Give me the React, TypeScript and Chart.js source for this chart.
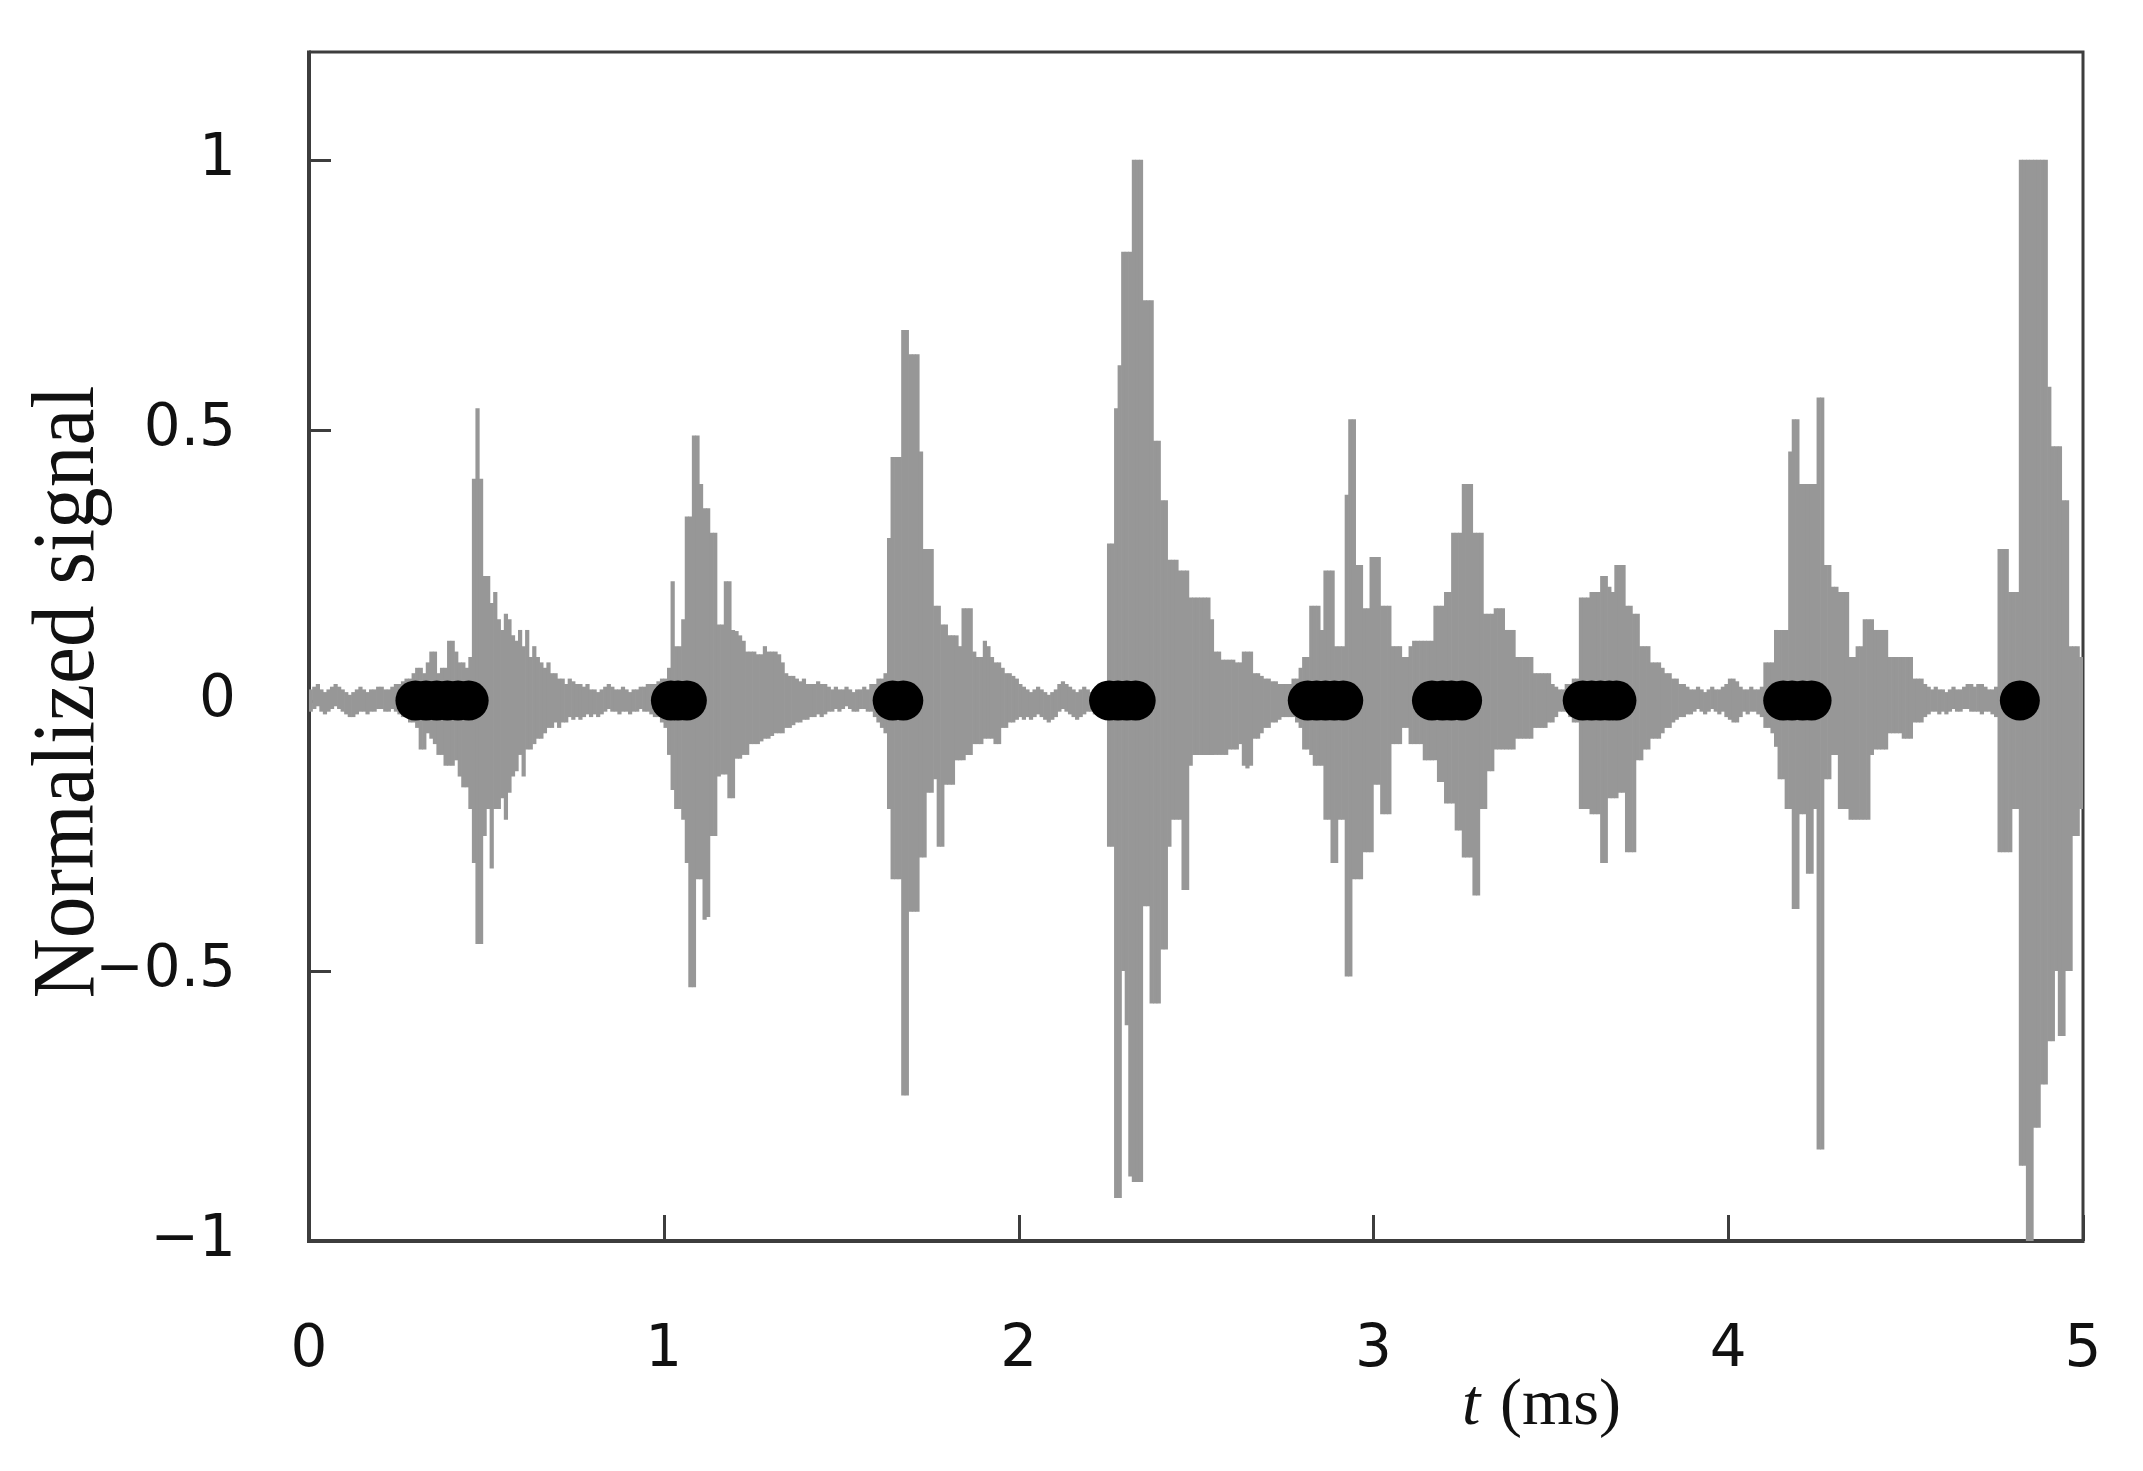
import React, { useEffect, useRef } from "react";
import { Chart, registerables } from "chart.js";

Chart.register(...registerables);

// Sampling grid of the recorded signal (ms)
const SAMPLE_START_MS = 0;
const SAMPLE_STEP_MS = 0.01;

// Upper envelope of the normalized signal in each 0.01 ms sample (rows = 0.1 ms)
const signalHigh: number[] = [
  0.02, 0.025, 0.03, 0.02, 0.015, 0.02, 0.025, 0.03, 0.025, 0.02,
  0.015, 0.01, 0.015, 0.02, 0.025, 0.02, 0.015, 0.02, 0.02, 0.025,
  0.025, 0.02, 0.02, 0.025, 0.03, 0.03, 0.035, 0.04, 0.04, 0.05,
  0.06, 0.06, 0.05, 0.07, 0.09, 0.09, 0.05, 0.06, 0.06, 0.11,
  0.11, 0.09, 0.07, 0.07, 0.06, 0.08, 0.41, 0.54, 0.41, 0.23,
  0.23, 0.18, 0.2, 0.15, 0.13, 0.16, 0.15, 0.12, 0.11, 0.13,
  0.1, 0.13, 0.08, 0.1, 0.08, 0.07, 0.06, 0.07, 0.05, 0.05,
  0.04, 0.04, 0.03, 0.04, 0.035, 0.03, 0.03, 0.025, 0.03, 0.02,
  0.02, 0.015, 0.02, 0.025, 0.03, 0.025, 0.02, 0.02, 0.025, 0.02,
  0.015, 0.02, 0.02, 0.025, 0.025, 0.03, 0.03, 0.03, 0.035, 0.04,
  0.04, 0.06, 0.22, 0.1, 0.1, 0.15, 0.34, 0.34, 0.49, 0.49,
  0.4, 0.355, 0.355, 0.31, 0.31, 0.14, 0.14, 0.22, 0.22, 0.13,
  0.128, 0.12, 0.11, 0.09, 0.09, 0.09, 0.085, 0.085, 0.1, 0.09,
  0.09, 0.09, 0.085, 0.07, 0.05, 0.045, 0.045, 0.04, 0.035, 0.04,
  0.03, 0.03, 0.03, 0.035, 0.03, 0.03, 0.025, 0.02, 0.025, 0.02,
  0.02, 0.025, 0.02, 0.015, 0.02, 0.02, 0.025, 0.02, 0.03, 0.03,
  0.04, 0.04, 0.05, 0.3, 0.45, 0.45, 0.45, 0.685, 0.685, 0.64,
  0.64, 0.64, 0.46, 0.28, 0.28, 0.28, 0.175, 0.175, 0.14, 0.14,
  0.12, 0.12, 0.12, 0.1, 0.17, 0.17, 0.17, 0.09, 0.08, 0.08,
  0.11, 0.1, 0.08, 0.07, 0.07, 0.06, 0.05, 0.05, 0.045, 0.04,
  0.03, 0.025, 0.02, 0.015, 0.02, 0.025, 0.02, 0.015, 0.01, 0.015,
  0.02, 0.03, 0.035, 0.03, 0.025, 0.02, 0.015, 0.02, 0.025, 0.02,
  0.015, 0.015, 0.02, 0.025, 0.03, 0.29, 0.29, 0.54, 0.62, 0.83,
  0.83, 0.83, 1.0, 1.0, 1.0, 0.74, 0.74, 0.74, 0.48, 0.48,
  0.37, 0.37, 0.26, 0.26, 0.26, 0.24, 0.24, 0.24, 0.19, 0.19,
  0.19, 0.19, 0.19, 0.19, 0.15, 0.09, 0.09, 0.075, 0.075, 0.075,
  0.075, 0.07, 0.07, 0.09, 0.09, 0.09, 0.05, 0.05, 0.045, 0.04,
  0.04, 0.035, 0.035, 0.03, 0.03, 0.03, 0.03, 0.04, 0.04, 0.06,
  0.08, 0.08, 0.175, 0.175, 0.175, 0.13, 0.24, 0.24, 0.24, 0.1,
  0.1, 0.1, 0.38, 0.52, 0.52, 0.25, 0.25, 0.17, 0.17, 0.265,
  0.265, 0.265, 0.175, 0.175, 0.175, 0.1, 0.1, 0.1, 0.08, 0.08,
  0.1, 0.11, 0.11, 0.11, 0.11, 0.11, 0.11, 0.175, 0.175, 0.175,
  0.2, 0.2, 0.31, 0.31, 0.31, 0.4, 0.4, 0.4, 0.31, 0.31,
  0.31, 0.16, 0.16, 0.16, 0.17, 0.17, 0.17, 0.13, 0.13, 0.13,
  0.08, 0.08, 0.08, 0.08, 0.08, 0.05, 0.05, 0.05, 0.05, 0.05,
  0.03, 0.025, 0.02, 0.02, 0.03, 0.03, 0.04, 0.04, 0.19, 0.19,
  0.19, 0.2, 0.2, 0.2, 0.23, 0.23, 0.21, 0.2, 0.25, 0.25,
  0.25, 0.175, 0.175, 0.16, 0.16, 0.1, 0.1, 0.1, 0.07, 0.07,
  0.07, 0.06, 0.05, 0.05, 0.04, 0.04, 0.03, 0.03, 0.025, 0.02,
  0.02, 0.025, 0.02, 0.015, 0.02, 0.025, 0.02, 0.02, 0.025, 0.03,
  0.04, 0.04, 0.035, 0.025, 0.02, 0.02, 0.025, 0.02, 0.02, 0.025,
  0.07, 0.07, 0.07, 0.13, 0.13, 0.13, 0.13, 0.46, 0.52, 0.52,
  0.4, 0.4, 0.4, 0.4, 0.4, 0.56, 0.56, 0.25, 0.25, 0.21,
  0.21, 0.2, 0.2, 0.2, 0.08, 0.08, 0.1, 0.1, 0.15, 0.15,
  0.15, 0.13, 0.13, 0.13, 0.13, 0.08, 0.08, 0.08, 0.08, 0.08,
  0.08, 0.08, 0.04, 0.04, 0.04, 0.03, 0.025, 0.02, 0.025, 0.02,
  0.02, 0.015, 0.02, 0.025, 0.02, 0.02, 0.025, 0.03, 0.03, 0.025,
  0.03, 0.03, 0.025, 0.02, 0.02, 0.025, 0.28, 0.28, 0.28, 0.2,
  0.2, 0.2, 1.0, 1.0, 1.0, 1.0, 1.0, 1.0, 1.0, 1.0,
  0.58, 0.47, 0.47, 0.47, 0.37, 0.37, 0.1, 0.1, 0.1, 0.08,
];

// Lower envelope of the normalized signal in each 0.01 ms sample
const signalLow: number[] = [
  -0.02, -0.015, -0.01, -0.02, -0.025, -0.02, -0.015, -0.01, -0.015, -0.02,
  -0.025, -0.03, -0.03, -0.025, -0.02, -0.02, -0.025, -0.02, -0.02, -0.015,
  -0.015, -0.02, -0.02, -0.015, -0.02, -0.025, -0.03, -0.03, -0.04, -0.04,
  -0.05, -0.09, -0.09, -0.06, -0.07, -0.08, -0.1, -0.1, -0.12, -0.12,
  -0.12, -0.11, -0.14, -0.16, -0.16, -0.2, -0.3, -0.45, -0.45, -0.25,
  -0.2, -0.31, -0.2, -0.2, -0.18, -0.22, -0.17, -0.14, -0.13, -0.1,
  -0.14, -0.09, -0.09, -0.08, -0.07, -0.07, -0.06, -0.05, -0.05, -0.04,
  -0.05, -0.04, -0.04, -0.03, -0.035, -0.03, -0.035, -0.03, -0.025, -0.03,
  -0.025, -0.03, -0.025, -0.02, -0.015, -0.02, -0.02, -0.025, -0.02, -0.02,
  -0.025, -0.02, -0.02, -0.015, -0.02, -0.02, -0.025, -0.03, -0.03, -0.04,
  -0.05, -0.1, -0.165, -0.2, -0.2, -0.22, -0.3, -0.53, -0.53, -0.33,
  -0.33, -0.405, -0.4, -0.25, -0.25, -0.14, -0.136, -0.136, -0.18, -0.18,
  -0.107, -0.107, -0.1, -0.1, -0.08, -0.08, -0.08, -0.075, -0.07, -0.07,
  -0.065, -0.06, -0.06, -0.06, -0.05, -0.05, -0.045, -0.04, -0.04, -0.035,
  -0.035, -0.03, -0.03, -0.025, -0.03, -0.025, -0.02, -0.02, -0.015, -0.02,
  -0.015, -0.01, -0.015, -0.02, -0.02, -0.015, -0.015, -0.02, -0.02, -0.03,
  -0.04, -0.05, -0.06, -0.2, -0.33, -0.33, -0.33, -0.73, -0.73, -0.39,
  -0.39, -0.39, -0.29, -0.29, -0.17, -0.17, -0.145, -0.27, -0.27, -0.155,
  -0.155, -0.155, -0.11, -0.11, -0.11, -0.1, -0.1, -0.08, -0.08, -0.08,
  -0.07, -0.07, -0.07, -0.08, -0.08, -0.05, -0.05, -0.04, -0.04, -0.035,
  -0.03, -0.035, -0.03, -0.035, -0.03, -0.025, -0.03, -0.035, -0.04, -0.035,
  -0.03, -0.02, -0.015, -0.02, -0.025, -0.03, -0.035, -0.03, -0.025, -0.02,
  -0.02, -0.025, -0.02, -0.02, -0.03, -0.27, -0.27, -0.92, -0.92, -0.5,
  -0.6, -0.88, -0.89, -0.89, -0.89, -0.38, -0.38, -0.56, -0.56, -0.56,
  -0.46, -0.46, -0.27, -0.22, -0.22, -0.22, -0.35, -0.35, -0.12, -0.1,
  -0.1, -0.1, -0.1, -0.1, -0.1, -0.1, -0.1, -0.1, -0.1, -0.09,
  -0.09, -0.09, -0.08, -0.12, -0.125, -0.12, -0.07, -0.07, -0.06, -0.05,
  -0.05, -0.04, -0.04, -0.035, -0.03, -0.03, -0.03, -0.03, -0.04, -0.05,
  -0.09, -0.09, -0.1, -0.12, -0.12, -0.12, -0.22, -0.22, -0.3, -0.3,
  -0.22, -0.22, -0.51, -0.51, -0.33, -0.33, -0.33, -0.28, -0.28, -0.28,
  -0.155, -0.155, -0.21, -0.21, -0.21, -0.08, -0.08, -0.08, -0.05, -0.05,
  -0.08, -0.08, -0.08, -0.08, -0.11, -0.11, -0.11, -0.11, -0.15, -0.15,
  -0.19, -0.19, -0.19, -0.24, -0.24, -0.29, -0.29, -0.29, -0.36, -0.36,
  -0.2, -0.2, -0.13, -0.13, -0.09, -0.09, -0.09, -0.09, -0.09, -0.09,
  -0.07, -0.07, -0.07, -0.07, -0.07, -0.05, -0.05, -0.05, -0.05, -0.04,
  -0.04, -0.03, -0.02, -0.02, -0.02, -0.03, -0.04, -0.04, -0.2, -0.2,
  -0.2, -0.21, -0.21, -0.21, -0.3, -0.3, -0.18, -0.18, -0.18, -0.17,
  -0.17, -0.28, -0.28, -0.28, -0.11, -0.11, -0.09, -0.09, -0.07, -0.07,
  -0.07, -0.06, -0.05, -0.05, -0.04, -0.035, -0.03, -0.03, -0.025, -0.025,
  -0.02, -0.015, -0.02, -0.025, -0.02, -0.015, -0.02, -0.025, -0.02, -0.03,
  -0.035, -0.04, -0.04, -0.03, -0.02, -0.025, -0.02, -0.02, -0.025, -0.03,
  -0.05, -0.05, -0.06, -0.085, -0.145, -0.145, -0.2, -0.2, -0.385, -0.385,
  -0.21, -0.21, -0.32, -0.32, -0.2, -0.83, -0.83, -0.145, -0.145, -0.1,
  -0.1, -0.2, -0.2, -0.2, -0.22, -0.22, -0.22, -0.22, -0.22, -0.22,
  -0.1, -0.09, -0.09, -0.09, -0.09, -0.06, -0.06, -0.06, -0.06, -0.07,
  -0.07, -0.07, -0.04, -0.04, -0.04, -0.03, -0.025, -0.02, -0.02, -0.025,
  -0.02, -0.025, -0.02, -0.015, -0.02, -0.02, -0.015, -0.015, -0.02, -0.02,
  -0.02, -0.025, -0.02, -0.02, -0.025, -0.03, -0.28, -0.28, -0.28, -0.28,
  -0.2, -0.2, -0.86, -0.86, -1.0, -1.0, -0.79, -0.79, -0.71, -0.71,
  -0.63, -0.63, -0.5, -0.62, -0.62, -0.5, -0.5, -0.25, -0.25, -0.2,
];

// Detected event times (ms), drawn as black dots on the zero line
const eventTimes: number[] = [
  0.3, 0.33, 0.36, 0.39, 0.42, 0.45,
  1.02, 1.04, 1.065,
  1.645, 1.675,
  2.255, 2.28, 2.305, 2.33,
  2.815, 2.84, 2.865, 2.89, 2.915,
  3.165, 3.195, 3.22, 3.25,
  3.59, 3.615, 3.64, 3.665, 3.685,
  4.155, 4.18, 4.21, 4.235,
  4.822,
];

const xTicks: number[] = [0, 1, 2, 3, 4, 5];
const yTicks: number[] = [-1, -0.5, 0, 0.5, 1];
const X_MIN = 0;
const X_MAX = 5;
const Y_MIN = -1;
const Y_MAX = 1.2;

const yTitle = "Normalized signal";
const xTitleVar = "t";
const xTitleUnit = "(ms)";

const W = 2143;
const H = 1471;
const AXIS_COLOR = "#3d3d3d";

const framePlugin = {
  id: "framePlugin",
  beforeDatasetsDraw(chart: any) {
    const { ctx, chartArea: a, scales } = chart;
    ctx.save();
    ctx.strokeStyle = AXIS_COLOR;
    ctx.lineCap = "butt";
    // inward tick marks
    ctx.lineWidth = 3;
    for (const v of yTicks) {
      const y = Math.round(scales.y.getPixelForValue(v)) + 0.5;
      ctx.beginPath();
      ctx.moveTo(a.left, y);
      ctx.lineTo(a.left + 22, y);
      ctx.stroke();
    }
    for (const v of xTicks) {
      const x = Math.round(scales.x.getPixelForValue(v)) + 0.5;
      ctx.beginPath();
      ctx.moveTo(x, a.bottom);
      ctx.lineTo(x, a.bottom - 26);
      ctx.stroke();
    }
    // frame
    ctx.lineWidth = 3;
    ctx.beginPath();
    ctx.moveTo(a.left, a.top);
    ctx.lineTo(a.right, a.top);
    ctx.lineTo(a.right, a.bottom);
    ctx.stroke();
    ctx.lineWidth = 4;
    ctx.beginPath();
    ctx.moveTo(a.left, a.top - 1.5);
    ctx.lineTo(a.left, a.bottom);
    ctx.lineTo(a.right + 1.5, a.bottom);
    ctx.stroke();
    ctx.restore();
  },
  afterDraw(chart: any) {
    const { ctx } = chart;
    ctx.save();
    ctx.fillStyle = "#111";
    // y-axis title (rotated)
    ctx.font = '89px "Liberation Serif"';
    const natural = ctx.measureText(yTitle).width;
    const targetLen = 613;
    ctx.translate(93, 692);
    ctx.rotate(-Math.PI / 2);
    ctx.scale(targetLen / natural, 1);
    ctx.textAlign = "center";
    ctx.textBaseline = "alphabetic";
    ctx.fillText(yTitle, 0, 0);
    ctx.restore();

    ctx.save();
    ctx.fillStyle = "#111";
    ctx.textBaseline = "alphabetic";
    ctx.textAlign = "left";
    ctx.font = 'italic 66px "Liberation Serif"';
    ctx.fillText(xTitleVar, 1462, 1424);
    ctx.font = '66px "Liberation Serif"';
    ctx.fillText(xTitleUnit, 1500, 1424);
    ctx.restore();
  },
};

export default function App() {
  const canvasRef = useRef<HTMLCanvasElement | null>(null);

  useEffect(() => {
    const canvas = canvasRef.current;
    if (!canvas) return;
    const barData = signalHigh.map((h, i) => ({
      x: SAMPLE_START_MS + (i + 0.5) * SAMPLE_STEP_MS,
      y: [signalLow[i], h],
    }));
    const dotData = eventTimes.map((t) => ({ x: t, y: 0 }));

    const chart = new Chart(canvas, {
      type: "bar",
      data: {
        datasets: [
          {
            type: "scatter",
            label: "events",
            data: dotData,
            backgroundColor: "#000000",
            borderColor: "#000000",
            borderWidth: 0,
            pointRadius: 20,
            pointHoverRadius: 20,
            order: 0,
          } as any,
          {
            type: "bar",
            label: "signal",
            data: barData as any,
            backgroundColor: "#979797",
            borderWidth: 0,
            barPercentage: 1,
            categoryPercentage: 1,
            order: 1,
          } as any,
        ],
      },
      options: {
        responsive: false,
        maintainAspectRatio: false,
        devicePixelRatio: 1,
        animation: false,
        events: [],
        layout: { autoPadding: false, padding: { top: 52, right: 60, left: 0, bottom: 0 } },
        plugins: {
          legend: { display: false },
          tooltip: { enabled: false },
          title: { display: false },
        },
        scales: {
          x: {
            type: "linear",
            min: X_MIN,
            max: X_MAX,
            offset: false,
            grid: { display: false, drawTicks: false, offset: false },
            border: { display: false },
            afterBuildTicks: (scale: any) => {
              scale.ticks = xTicks.map((v) => ({ value: v }));
            },
            afterFit: (scale: any) => {
              scale.height = H - 1241;
              scale.paddingLeft = 0;
              scale.paddingRight = 0;
              scale.paddingTop = 0;
              scale.paddingBottom = 0;
            },
            ticks: {
              autoSkip: false,
              maxRotation: 0,
              minRotation: 0,
              padding: 75,
              color: "#111",
              font: { family: '"DejaVu Sans"', size: 58 },
              callback: (v: any) => String(v),
            },
          },
          y: {
            type: "linear",
            min: Y_MIN,
            max: Y_MAX,
            grid: { display: false, drawTicks: false },
            border: { display: false },
            afterBuildTicks: (scale: any) => {
              scale.ticks = yTicks.map((v) => ({ value: v }));
            },
            afterFit: (scale: any) => {
              scale.width = 309;
              scale.paddingLeft = 0;
              scale.paddingRight = 0;
              scale.paddingTop = 0;
              scale.paddingBottom = 0;
            },
            ticks: {
              padding: 73,
              color: "#111",
              font: { family: '"DejaVu Sans"', size: 58 },
              callback: (v: any) => {
                const n = Number(v);
                return n < 0 ? "\u2212" + String(-n) : String(n);
              },
            },
          },
        },
      },
      plugins: [framePlugin],
    });
    return () => chart.destroy();
  }, []);

  return (
    <div style={{ position: "absolute", left: 0, top: 0, width: W, height: H, background: "#fff" }}>
      <canvas ref={canvasRef} width={W} height={H} style={{ display: "block" }} />
    </div>
  );
}
